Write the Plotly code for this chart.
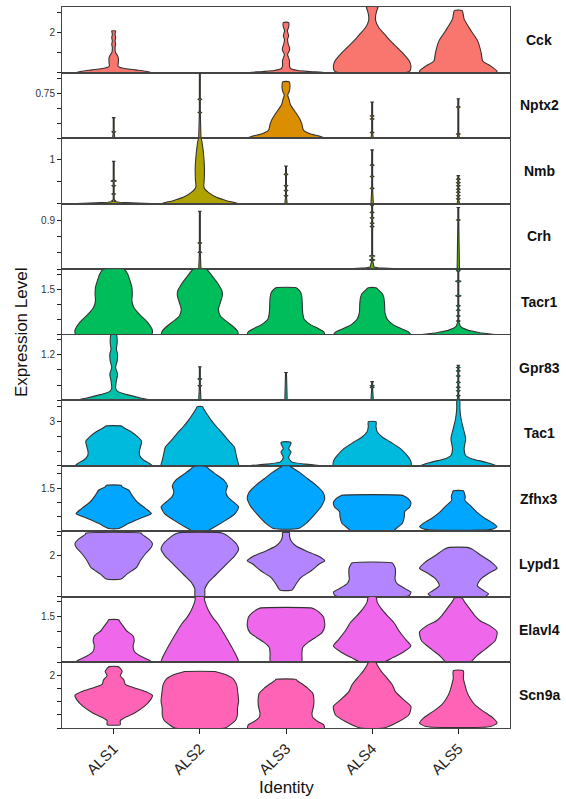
import plotly.graph_objects as go
from plotly.subplots import make_subplots

identities = ["ALS1", "ALS2", "ALS3", "ALS4", "ALS5"]
genes = ["Cck", "Nptx2", "Nmb", "Crh", "Tacr1", "Gpr83", "Tac1", "Zfhx3", "Lypd1", "Elavl4", "Scn9a"]
gene_colors = ["#F8766D", "#DB8E00", "#AEA200", "#64B200", "#00BD5C", "#00C1A7",
               "#00BADE", "#00A6FF", "#B385FF", "#EF67EB", "#FF63B6"]

# y-axis limits, tick positions and the single labelled tick per gene
y_max = [3.25, 1.1, 1.5, 1.2, 2.17, 1.72, 4.43, 2.28, 3.19, 2.15, 2.52]
tick_vals = [[0, 1, 2, 3], [0, 0.25, 0.5, 0.75, 1.0], [0, 0.5, 1, 1.5], [0, 0.3, 0.6, 0.9, 1.2],
             [0, 0.5, 1, 1.5, 2], [0, 0.4, 0.8, 1.2, 1.6], [0, 1, 2, 3, 4], [0, 0.5, 1, 1.5, 2],
             [0, 1, 2, 3], [0, 0.5, 1, 1.5, 2], [0, 0.5, 1, 1.5, 2, 2.5]]
tick_label = [2, 0.75, 1, 0.9, 1.5, 1.2, 3, 1.5, 2, 1.5, 2]

# Violin outlines: expression levels and relative density (1 = full width)
cck = {
    "ALS1": ([0, 0.067, 0.133, 0.2, 0.267, 0.333, 0.483, 0.733, 0.867, 0.983, 1.233, 1.4, 1.567, 1.733, 1.9, 2.033, 2.067],
             [0.97, 0.82, 0.56, 0.30, 0.15, 0.11, 0.12, 0.12, 0.09, 0.05, 0.035, 0.05, 0.035, 0.05, 0.035, 0.05, 0.05]),
    "ALS3": ([0, 0.05, 0.1, 0.2, 0.32, 0.6, 0.9, 1.1, 1.23, 1.4, 1.65, 1.82, 2.07, 2.27, 2.48],
             [0.99, 0.6, 0.3, 0.12, 0.09, 0.09, 0.04, 0.09, 0.09, 0.06, 0.04, 0.07, 0.035, 0.07, 0.07]),
    "ALS4": ([0, 0.07, 0.32, 0.57, 0.9, 1.23, 1.57, 1.9, 2.23, 2.57, 2.82, 3.07, 3.25],
             [0.86, 0.97, 1.0, 0.96, 0.82, 0.65, 0.47, 0.32, 0.17, 0.09, 0.09, 0.12, 0.15]),
    "ALS5": ([0, 0.07, 0.32, 0.57, 0.98, 1.57, 2.07, 2.65, 3.07],
             [0.97, 1.0, 0.84, 0.63, 0.59, 0.5, 0.33, 0.15, 0.10]),
}
nptx2 = {
    "ALS1": {"top": 0.344, "dots": [0.105]},
    "ALS2": {"top": 1.1, "dots": [0.43, 0.65]},
    "ALS3": ([0, 0.033, 0.078, 0.133, 0.233, 0.317, 0.4, 0.483, 0.567, 0.65, 0.722, 0.789, 0.872, 0.944],
             [1.0, 0.86, 0.60, 0.45, 0.41, 0.36, 0.28, 0.19, 0.11, 0.078, 0.043, 0.086, 0.103, 0.086]),
    "ALS4": {"top": 0.606, "dots": [0.094, 0.32, 0.37]},
    "ALS5": {"top": 0.661, "dots": [0.067, 0.52]},
}
nmb = {
    "ALS1": {"top": 0.97, "dots": [0.07, 0.22, 0.41], "big": [0.52],
             "base": ([0, 0.015, 0.03, 0.05], [0.95, 0.5, 0.15, 0.03])},
    "ALS2": ([0, 0.068, 0.144, 0.258, 0.333, 0.409, 0.5, 0.788, 1.091, 1.318, 1.5],
             [1.0, 0.69, 0.43, 0.22, 0.13, 0.10, 0.11, 0.12, 0.10, 0.07, 0.03]),
    "ALS3": {"top": 0.86, "dots": [0.18, 0.30, 0.41, 0.67]},
    "ALS4": {"top": 1.23, "dots": [0.35, 0.62, 0.88]},
    "ALS5": {"top": 0.64, "dots": [0.11, 0.18, 0.26, 0.33, 0.41, 0.48, 0.56]},
}
crh = {
    "ALS2": {"top": 1.06, "dots": [0.31, 0.48]},
    "ALS4": {"top": 1.17, "dots": [0.78, 0.84, 0.94, 1.04], "big": [0.17, 0.24],
             "base": ([0, 0.012, 0.025, 0.04], [0.97, 0.5, 0.15, 0.05])},
    "ALS5": {"top": 1.13, "dots": [0.9]},
}
tacr1 = {
    "ALS1": ([0, 0.07, 0.18, 0.4, 0.68, 0.9, 1.12, 1.34, 1.57, 1.79, 2.01, 2.17],
             [0.97, 1.0, 0.99, 0.88, 0.66, 0.52, 0.47, 0.48, 0.47, 0.42, 0.36, 0.27]),
    "ALS2": ([0, 0.122, 0.289, 0.456, 0.622, 0.844, 1.067, 1.289, 1.456, 1.622, 1.789, 1.956, 2.122, 2.17],
             [0.98, 0.97, 0.84, 0.67, 0.53, 0.48, 0.53, 0.58, 0.57, 0.50, 0.41, 0.31, 0.21, 0.17]),
    "ALS3": ([0, 0.1, 0.211, 0.344, 0.511, 0.733, 1.011, 1.233, 1.4, 1.511, 1.556],
             [0.99, 0.97, 0.82, 0.62, 0.47, 0.43, 0.42, 0.41, 0.38, 0.31, 0.26]),
    "ALS4": ([0, 0.1, 0.211, 0.344, 0.511, 0.733, 1.011, 1.233, 1.367, 1.478, 1.556],
             [0.99, 0.93, 0.73, 0.53, 0.39, 0.33, 0.32, 0.30, 0.26, 0.17, 0.10]),
    "ALS5": {"top": 2.17, "dots": [0.456, 0.622, 0.811, 0.956, 2.122], "big": [1.289, 1.767],
             "base": ([0, 0.067, 0.144, 0.23, 0.29], [0.99, 0.56, 0.26, 0.1, 0.05])},
}
gpr83 = {
    "ALS1": ([0, 0.061, 0.148, 0.235, 0.322, 0.513, 0.687, 0.861, 1.035, 1.209, 1.339, 1.513, 1.72],
             [0.98, 0.69, 0.34, 0.10, 0.05, 0.07, 0.10, 0.05, 0.09, 0.10, 0.07, 0.09, 0.07]),
    "ALS2": {"top": 0.88, "dots": [0.38, 0.56]},
    "ALS3": {"top": 0.73, "dots": []},
    "ALS4": {"top": 0.49, "dots": [0.34, 0.38]},
    "ALS5": {"top": 0.92, "dots": [0.12, 0.25, 0.34, 0.47, 0.64, 0.77, 0.86]},
}
tac1 = {
    "ALS1": ([0, 0.18, 0.41, 0.70, 0.93, 1.27, 1.66, 1.95, 2.30, 2.52, 2.66, 2.70],
             [0.99, 0.91, 0.76, 0.67, 0.66, 0.69, 0.72, 0.62, 0.45, 0.30, 0.22, 0.19]),
    "ALS2": ([0, 0.36, 0.82, 1.27, 1.73, 2.18, 2.64, 3.09, 3.55, 3.89, 4.0],
             [1.0, 0.97, 0.93, 0.89, 0.73, 0.59, 0.43, 0.29, 0.17, 0.09, 0.07]),
    "ALS3": ([0, 0.114, 0.25, 0.43, 0.59, 0.93, 1.16, 1.50, 1.61],
             [0.99, 0.5, 0.16, 0.09, 0.07, 0.13, 0.07, 0.13, 0.11]),
    "ALS4": ([0, 0.36, 0.70, 1.16, 1.61, 1.95, 2.30, 2.64, 2.98],
             [1.0, 0.99, 0.9, 0.73, 0.47, 0.26, 0.13, 0.10, 0.10]),
    "ALS5": ([0, 0.25, 0.48, 0.70, 1.16, 1.84, 2.52, 3.2, 3.89, 4.43],
             [0.99, 0.69, 0.34, 0.19, 0.15, 0.19, 0.13, 0.07, 0.04, 0.035]),
}
zfhx3 = {
    "ALS1": ([0.10, 0.28, 0.46, 0.62, 0.80, 1.03, 1.26, 1.43, 1.55, 1.60],
             [0.13, 0.39, 0.69, 0.97, 0.82, 0.60, 0.47, 0.39, 0.22, 0.19]),
    "ALS2": ([0, 0.16, 0.39, 0.62, 0.85, 1.03, 1.20, 1.37, 1.58, 1.78, 1.97, 2.16, 2.26],
             [0.16, 0.39, 0.67, 0.91, 1.0, 0.86, 0.72, 0.67, 0.71, 0.62, 0.43, 0.24, 0.16]),
    "ALS3": ([0.10, 0.28, 0.57, 0.91, 1.14, 1.37, 1.60, 1.83, 2.06, 2.24, 2.28],
             [0.32, 0.52, 0.73, 0.93, 1.0, 0.95, 0.78, 0.56, 0.34, 0.13, 0.09]),
    "ALS4": ([0, 0.10, 0.28, 0.51, 0.68, 0.85, 1.0, 1.14, 1.23, 1.26],
             [0.53, 0.62, 0.78, 0.83, 0.84, 0.97, 1.0, 0.93, 0.82, 0.76]),
    "ALS5": ([0.07, 0.16, 0.28, 0.45, 0.68, 0.91, 1.08, 1.20, 1.31, 1.41],
             [0.85, 1.0, 0.9, 0.69, 0.47, 0.30, 0.17, 0.18, 0.16, 0.13]),
}
lypd1 = {
    "ALS1": ([0.87, 1.11, 1.44, 1.77, 2.1, 2.42, 2.58, 2.82, 3.05, 3.1],
             [0.19, 0.34, 0.59, 0.69, 0.82, 0.97, 1.0, 0.9, 0.73, 0.72]),
    "ALS2": ([0, 0.39, 0.71, 1.03, 1.35, 1.68, 2.0, 2.32, 2.56, 2.81, 3.05, 3.13],
             [0.12, 0.13, 0.22, 0.39, 0.56, 0.73, 0.9, 1.0, 0.95, 0.82, 0.65, 0.52]),
    "ALS3": ([0.34, 0.63, 0.95, 1.27, 1.60, 1.76, 2.0, 2.24, 2.48, 2.73, 2.97, 3.13],
             [0.16, 0.26, 0.39, 0.65, 0.86, 1.0, 0.82, 0.52, 0.26, 0.13, 0.09, 0.09]),
    "ALS4": ([0.06, 0.23, 0.39, 0.63, 0.87, 1.11, 1.35, 1.55, 1.65],
             [0.95, 1.0, 0.86, 0.65, 0.59, 0.6, 0.6, 0.56, 0.52]),
    "ALS5": ([0, 0.15, 0.31, 0.55, 0.87, 1.19, 1.39, 1.68, 2.0, 2.29, 2.40],
             [0.67, 0.78, 0.65, 0.49, 0.58, 0.82, 1.0, 0.86, 0.6, 0.39, 0.26]),
}
elavl4 = {
    "ALS1": ([0, 0.08, 0.21, 0.37, 0.54, 0.71, 0.87, 1.04, 1.20, 1.33, 1.40],
             [0.99, 0.91, 0.69, 0.53, 0.5, 0.53, 0.5, 0.33, 0.24, 0.16, 0.13]),
    "ALS2": ([0, 0.14, 0.42, 0.71, 0.99, 1.26, 1.48, 1.71, 1.93, 2.06, 2.15],
             [1.0, 0.97, 0.86, 0.73, 0.6, 0.47, 0.33, 0.22, 0.15, 0.12, 0.12]),
    "ALS3": ([0, 0.26, 0.49, 0.65, 0.82, 0.98, 1.20, 1.48, 1.64, 1.75, 1.79],
             [0.40, 0.41, 0.43, 0.56, 0.76, 0.93, 1.0, 0.97, 0.86, 0.73, 0.65]),
    "ALS4": ([0, 0.15, 0.32, 0.54, 0.76, 1.04, 1.31, 1.54, 1.76, 1.98, 2.15],
             [0.28, 0.52, 0.78, 1.0, 0.86, 0.69, 0.56, 0.39, 0.24, 0.13, 0.10]),
    "ALS5": ([0, 0.21, 0.43, 0.71, 1.0, 1.20, 1.37, 1.53, 1.75, 1.97, 2.12],
             [0.30, 0.47, 0.69, 0.95, 1.0, 0.82, 0.56, 0.43, 0.30, 0.17, 0.09]),
}
scn9a = {
    "ALS1": ([0.13, 0.28, 0.41, 0.57, 0.83, 1.08, 1.25, 1.40, 1.55, 1.68, 1.85, 2.01, 2.17, 2.29, 2.36],
             [0.17, 0.17, 0.30, 0.53, 0.79, 0.95, 1.0, 0.82, 0.52, 0.30, 0.26, 0.17, 0.22, 0.17, 0.12]),
    "ALS2": ([0, 0.13, 0.32, 0.51, 0.76, 1.02, 1.34, 1.66, 1.89, 2.04, 2.14, 2.17],
             [0.65, 0.79, 0.93, 0.97, 0.97, 1.0, 0.98, 0.95, 0.86, 0.69, 0.47, 0.39]),
    "ALS3": ([0.0, 0.13, 0.25, 0.41, 0.57, 0.83, 1.08, 1.34, 1.53, 1.72, 1.83, 1.87],
             [0.99, 0.97, 0.82, 0.69, 0.67, 0.71, 0.72, 0.69, 0.56, 0.39, 0.28, 0.26]),
    "ALS4": ([0, 0.25, 0.51, 0.83, 1.08, 1.40, 1.66, 1.91, 2.17, 2.42, 2.52],
             [0.30, 0.69, 0.95, 1.0, 0.82, 0.60, 0.52, 0.39, 0.24, 0.13, 0.10]),
    "ALS5": ([0.06, 0.19, 0.38, 0.64, 0.89, 1.15, 1.40, 1.66, 1.91, 2.20],
             [0.84, 1.0, 0.9, 0.65, 0.43, 0.30, 0.22, 0.17, 0.13, 0.13]),
}
violins = [cck, nptx2, nmb, crh, tacr1, gpr83, tac1, zfhx3, lypd1, elavl4, scn9a]

HALF = 0.45  # violin half-width in category units (width 0.9)


def spike_profile(spec, yrange):
    """Outline of a near-degenerate violin: thin stem with small bumps."""
    thin, dot_w, big_w, cap_w = 0.012, 0.045, 0.075, 0.045
    h = 0.013 * yrange
    if "base" in spec:
        ys, ws = list(spec["base"][0]), list(spec["base"][1])
    else:
        ys, ws = [0.0], [0.03]
    marks = [(d, dot_w) for d in spec.get("dots", [])] + [(d, big_w) for d in spec.get("big", [])]
    for d, dw in sorted(marks):
        lo = max(d - h, ys[-1] + 1e-4)
        ys += [lo, d, d + h]
        ws += [thin, dw, thin]
    top = spec["top"]
    ys += [top - 0.004 * yrange, top]
    ws += [thin, cap_w]
    return ys, ws, "linear"


fig = make_subplots(rows=len(genes), cols=1, shared_xaxes=True, vertical_spacing=0)

for gi, gene in enumerate(genes):
    row = gi + 1
    for ci, ident in enumerate(identities):
        spec = violins[gi].get(ident)
        if spec is None:
            continue
        if isinstance(spec, dict):
            ys, ws, shape = spike_profile(spec, y_max[gi])
        else:
            ys, ws = spec
            shape = "spline"
        ys = [min(y, y_max[gi]) for y in ys]
        center = ci + 1
        xs = [center + w * HALF for w in ws] + [center - w * HALF for w in reversed(ws)]
        yy = list(ys) + list(reversed(ys))
        xs.append(xs[0])
        yy.append(yy[0])
        fig.add_trace(go.Scatter(
            x=xs, y=yy, mode="lines", fill="toself", fillcolor=gene_colors[gi],
            line=dict(color="#333333", width=1.1, shape=shape, smoothing=0.6),
            hoverinfo="skip", showlegend=False), row=row, col=1)

    fig.update_yaxes(
        row=row, col=1, range=[0, y_max[gi]], tickvals=tick_vals[gi],
        ticktext=[str(v) if v == tick_label[gi] else "" for v in tick_vals[gi]],
        ticks="outside", ticklen=4, tickwidth=1, tickcolor="#222",
        showline=True, mirror=True, linecolor="#444", linewidth=1,
        showgrid=False, zeroline=False, tickfont=dict(size=10, color="#333"))
    fig.update_xaxes(
        row=row, col=1, range=[0.4, 5.6], showline=True, mirror=True,
        linecolor="#444", linewidth=1, showgrid=False, zeroline=False,
        tickvals=[1, 2, 3, 4, 5], ticktext=identities,
        ticks="outside" if row == len(genes) else "", ticklen=5, tickcolor="#222",
        showticklabels=(row == len(genes)), tickangle=-45,
        tickfont=dict(size=15, color="#222"))

    # gene label on the right
    dom = fig.layout["yaxis" + ("" if row == 1 else str(row))].domain
    fig.add_annotation(text="<b>" + gene + "</b>", xref="paper", yref="paper",
                       x=1.065, y=(dom[0] + dom[1]) / 2, showarrow=False,
                       xanchor="center", yanchor="middle",
                       font=dict(size=14, color="#111"))

fig.add_annotation(text="Expression Level", xref="paper", yref="paper", x=-0.089, y=0.548,
                   textangle=-90, showarrow=False, xanchor="center", yanchor="middle",
                   font=dict(size=17, color="#111"))
fig.add_annotation(text="Identity", xref="paper", yref="paper", x=0.5, y=-0.082,
                   showarrow=False, xanchor="center", yanchor="middle",
                   font=dict(size=17, color="#111"))

fig.update_layout(
    width=566, height=799, margin=dict(l=62, r=56, t=7, b=71),
    paper_bgcolor="white", plot_bgcolor="white",
    font=dict(family="Liberation Sans, Arial, sans-serif"))

fig.write_html("out.html", config={"displayModeBar": False},
               post_script="document.body.style.margin='0px';")
